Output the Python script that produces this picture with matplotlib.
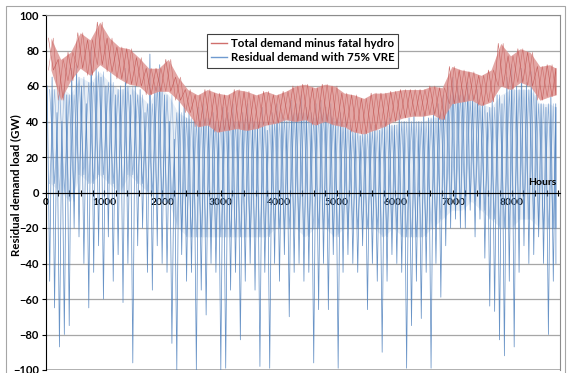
import numpy as np
import matplotlib
matplotlib.use("Agg")
import matplotlib.pyplot as plt
from matplotlib.lines import Line2D
from matplotlib.patches import Rectangle

plt.rcParams['font.family'] = ['Lato', 'DejaVu Sans']

# Total demand minus fatal hydro: weekly (168 h) high / low, GW
red_hi = [87, 75, 79, 90, 86, 96, 87, 82, 81, 76, 70, 70, 75, 65, 58, 55, 58, 56,
          55, 58, 57, 55, 57, 55, 57, 60, 61, 59, 61, 60, 56, 55, 53, 56, 56, 57,
          58, 58, 58, 60, 59, 71, 69, 68, 66, 69, 84, 77, 81, 79, 71, 72, 70]
red_lo = [69, 52, 63, 70, 66, 72, 68, 64, 61, 60, 55, 57, 57, 52, 45, 37, 38, 34,
          35, 36, 35, 36, 38, 39, 41, 40, 41, 38, 40, 38, 37, 34, 33, 35, 37, 40,
          42, 43, 43, 44, 41, 50, 51, 52, 49, 51, 60, 58, 62, 60, 52, 54, 55]

# Residual demand with 75% VRE: half-week (84 h) high / low, GW
blue_hi = [60, 65, 45, 40, 55, 70, 72, 60, 50, 82, 70, 65, 60, 68, 55, 60, 70, 55,
           60, 58, 45, 78, 60, 72, 55, 40, 30, 55, 50, 45, 40, 48, 50, 42, 45, 38,
           48, 45, 50, 40, 45, 50, 42, 40, 48, 35, 45, 50, 45, 40, 52, 50, 55, 48,
           45, 50, 52, 48, 50, 40, 45, 42, 38, 35, 32, 35, 40, 38, 35, 40, 42, 38,
           45, 40, 42, 45, 40, 45, 42, 48, 50, 55, 60, 65, 60, 58, 62, 55, 58, 50,
           45, 52, 55, 50, 65, 72, 60, 70, 62, 68, 55, 50, 48, 55, 50]
blue_lo = [-50, -65, -87, -80, -75, -20, -25, -40, -65, -45, -30, -60, -25, -50,
           -35, -62, -40, -96, -30, -20, -45, -55, -30, -40, -45, -85, -100, -35,
           -50, -45, -100, -55, -69, -40, -45, -100, -99, -55, -45, -83, -50, -40,
           -55, -98, -45, -99, -40, -50, -35, -70, -45, -40, -50, -45, -96, -66,
           -40, -66, -35, -99, -45, -35, -40, -45, -30, -66, -40, -50, -90, -50,
           -35, -40, -45, -99, -75, -50, -71, -45, -99, -40, -59, -30, -20, -15,
           -20, -20, -10, -25, -15, -37, -64, -67, -83, -92, -50, -87, -45, -30,
           -40, -35, -25, -40, -80, -50, -40]

# dense part of the residual demand trace, weekly top / bottom, GW
blue_band_top = [58, 60, 55, 65, 62, 68, 62, 58, 60, 55, 50, 60, 55, 45, 42, 40, 42, 40,
                 42, 40, 42, 40, 40, 40, 42, 45, 45, 42, 45, 42, 38, 35, 33, 35, 38, 38,
                 40, 40, 40, 42, 45, 55, 55, 52, 50, 48, 55, 58, 58, 58, 50, 50, 48]
blue_band_bot = [5, 0, -5, 10, 5, 10, 5, 0, 10, 5, 0, -5, -5, -20, -25, -25, -25, -25,
                 -25, -25, -25, -25, -25, -20, -20, -20, -25, -20, -20, -25, -20, -20,
                 -20, -20, -25, -20, -25, -25, -25, -20, -15, -10, -10, -5, -10, -15,
                 -20, -20, -15, -15, -20, -20, -20]

x_ticks = [0, 1000, 2000, 3000, 4000, 5000, 6000, 7000, 8000]
y_ticks = [-100, -80, -60, -40, -20, 0, 20, 40, 60, 80, 100]


def zigzag(hi, lo, step, offset=0.0):
    start = np.arange(len(hi)) * step + offset
    x = np.column_stack([start + step / 4, start + 3 * step / 4]).ravel()
    y = np.column_stack([hi, lo]).ravel()
    return np.minimum(x, 8760), y


fig = plt.figure(figsize=(5.68, 3.73), dpi=100)
fig.patches.append(Rectangle((6 / 568, -0.01), 559 / 568, 1 - 6 / 373 + 0.01,
                             transform=fig.transFigure, fill=False,
                             edgecolor='#a6a6a6', lw=0.8))
ax = fig.add_axes([46 / 568, 3 / 373, 514 / 568, 355 / 373])

wx = np.minimum(np.arange(len(red_hi)) * 168 + 84, 8760)

# blue trace
ax.fill_between(wx, blue_band_bot, blue_band_top, color='#4f81bd', alpha=0.12,
                lw=0, zorder=2)
kx, ky = zigzag(blue_band_top, blue_band_bot, 168, offset=21)
ax.plot(kx, ky, color='#6f9ad0', lw=0.5, alpha=0.8, zorder=2)
kx, ky = zigzag(blue_band_bot, blue_band_top, 168, offset=21)
ax.plot(kx, ky, color='#6f9ad0', lw=0.5, alpha=0.6, zorder=2)
bx, by = zigzag(blue_hi, blue_lo, 84)
ax.plot(bx, by, color='#4f81bd', lw=0.55, alpha=0.85, zorder=2)

# red band
ax.fill_between(wx, red_lo, red_hi, color='#dc908d', alpha=0.8, lw=0, zorder=3)
zx, zy = zigzag(red_hi, red_lo, 168)
ax.plot(zx, zy, color='#c0504d', lw=0.45, alpha=0.8, zorder=3)
zx, zy = zigzag(red_lo, red_hi, 168)
ax.plot(zx, zy, color='#c0504d', lw=0.45, alpha=0.6, zorder=3)

ax.set_xlim(0, 8830)
ax.set_ylim(-100, 100)
ax.set_yticks(y_ticks)
ax.set_xticks(x_ticks)
ax.set_xticks(np.arange(0, 8801, 200), minor=True)
ax.grid(axis='y', color='#a6a6a6', lw=0.9, zorder=0)
ax.axhline(-100, color='#a6a6a6', lw=1.2, zorder=1)

ax.spines['bottom'].set_position(('data', 0))
ax.spines['bottom'].set_color('black')
ax.spines['bottom'].set_zorder(4)
ax.spines['left'].set_color('black')
ax.spines['top'].set_color('#8c8c8c')
ax.spines['right'].set_color('#8c8c8c')

ax.tick_params(axis='x', which='both', direction='inout', length=4, width=0.8,
               labelsize=7.5, pad=2)
ax.tick_params(axis='y', length=3, labelsize=8, pad=2)
for lab in ax.get_xticklabels() + ax.get_yticklabels():
    lab.set_fontweight('bold')

ax.set_ylabel('Residual demand load (GW)', fontsize=8.3, fontweight='bold')
ax.yaxis.set_label_coords(-0.048, 0.52)
ax.text(8765, 3, 'Hours', ha='right', va='bottom', fontsize=7.5, fontweight='bold')

handles = [Line2D([], [], color='#d06f6c', lw=1),
           Line2D([], [], color='#6f9ad0', lw=1)]
leg = ax.legend(handles, ['Total demand minus fatal hydro', 'Residual demand with 75% VRE'],
                loc='upper left', bbox_to_anchor=(161 / 514, 1 - 19 / 355),
                fancybox=False, framealpha=1, edgecolor='#404040',
                prop={'weight': 'bold', 'size': 8.3}, handlelength=1.4,
                handletextpad=0.3, borderpad=0.35, labelspacing=0.3,
                borderaxespad=0)
leg.get_frame().set_linewidth(0.8)
leg.set_zorder(5)

fig.savefig('out.png', dpi=100)
